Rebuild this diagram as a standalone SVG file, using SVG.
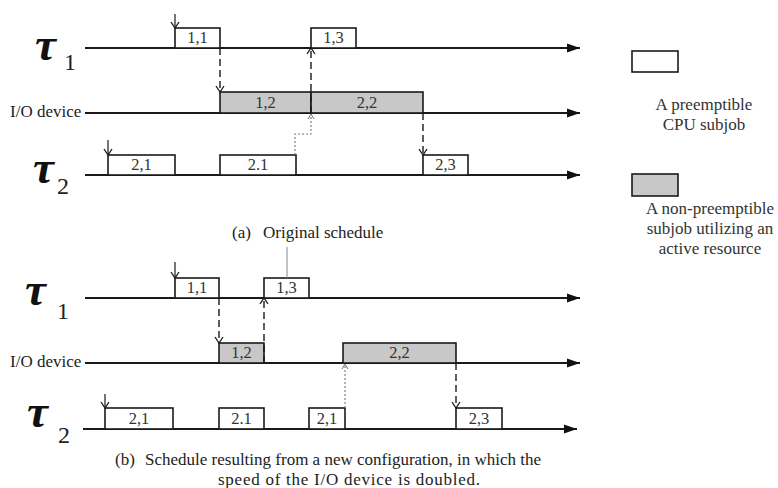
<svg xmlns="http://www.w3.org/2000/svg" width="778" height="488" viewBox="0 0 778 488">
  <style>
    text { font-family: "Liberation Serif", "Times New Roman", serif; }
    .tau { font-size: 47px; font-style: italic; font-weight: bold; fill: #111; }
    .sub { font-size: 24px; fill: #222; }
    .dev { font-size: 17px; fill: #222; }
    .lbl { font-size: 16.5px; fill: #333; text-anchor: middle; }
    .cap { font-size: 17px; fill: #222; }
    .leg { font-size: 17px; fill: #333; text-anchor: middle; }
    .axis { stroke: #1a1a1a; stroke-width: 1.8; fill: none; }
    .cpu { fill: #fff; stroke: #1a1a1a; stroke-width: 1.6; }
    .io { fill: #c8c8c8; stroke: #1a1a1a; stroke-width: 1.6; }
    .rel { stroke: #1a1a1a; stroke-width: 1.2; fill: none; }
    .dash { stroke: #1a1a1a; stroke-width: 1.4; stroke-dasharray: 7 4; fill: none; }
    .dot { stroke: #777; stroke-width: 1.1; stroke-dasharray: 2 2; fill: none; }
    .lead { stroke: #888; stroke-width: 1; }
  </style>
  <defs>
    <marker id="tri" markerWidth="14" markerHeight="10" refX="13" refY="5" orient="auto" markerUnits="userSpaceOnUse">
      <path d="M0,0.5 L13,5 L0,9.5 z" fill="#111"/>
    </marker>
    <marker id="vee" markerWidth="10" markerHeight="10" refX="8" refY="5" orient="auto" markerUnits="userSpaceOnUse">
      <path d="M2,1 L8,5 L2,9" fill="none" stroke="#1a1a1a" stroke-width="1.3"/>
    </marker>
    <marker id="veeSmall" markerWidth="8" markerHeight="8" refX="6" refY="4" orient="auto" markerUnits="userSpaceOnUse">
      <path d="M1,1 L6,4 L1,7" fill="none" stroke="#777" stroke-width="1"/>
    </marker>
  </defs>

  <!-- (a) original schedule -->
  <g id="a-tau1-label">
    <text class="tau" x="35" y="60">τ</text>
    <text class="sub" x="64" y="70">1</text>
  </g>
  <g id="a-io-label"><text class="dev" x="10" y="117">I/O device</text></g>
  <g id="a-tau2-label">
    <text class="tau" x="33" y="183">τ</text>
    <text class="sub" x="57" y="194">2</text>
  </g>

  <g id="a-axes">
    <line class="axis" x1="85" y1="48" x2="580" y2="48" marker-end="url(#tri)"/>
    <line class="axis" x1="85" y1="113" x2="580" y2="113" marker-end="url(#tri)"/>
    <line class="axis" x1="85" y1="175" x2="580" y2="175" marker-end="url(#tri)"/>
  </g>

  <g id="a-j11"><rect class="cpu" x="175" y="28" width="45" height="20"/><text class="lbl" x="197.5" y="43">1,1</text></g>
  <g id="a-j13"><rect class="cpu" x="311" y="28" width="45" height="20"/><text class="lbl" x="333.5" y="43">1,3</text></g>
  <g id="a-j12"><rect class="io" x="220" y="92" width="91" height="21"/><text class="lbl" x="265.5" y="108">1,2</text></g>
  <g id="a-j22"><rect class="io" x="311" y="92" width="112" height="21"/><text class="lbl" x="367" y="108">2,2</text></g>
  <g id="a-j21"><rect class="cpu" x="108" y="155" width="67" height="20"/><text class="lbl" x="141.5" y="170">2,1</text></g>
  <g id="a-j21b"><rect class="cpu" x="220" y="155" width="76" height="20"/><text class="lbl" x="258" y="170">2.1</text></g>
  <g id="a-j23"><rect class="cpu" x="423" y="155" width="45" height="20"/><text class="lbl" x="445.5" y="170">2,3</text></g>

  <g id="a-connectors">
    <line class="rel" x1="175" y1="14" x2="175" y2="28" marker-end="url(#vee)"/>
    <line class="rel" x1="108" y1="140" x2="108" y2="155" marker-end="url(#vee)"/>
    <line class="dash" x1="220" y1="48" x2="220" y2="92" marker-end="url(#vee)"/>
    <line class="dash" x1="311" y1="113" x2="311" y2="48" marker-end="url(#vee)"/>
    <line class="dash" x1="423" y1="113" x2="423" y2="155" marker-end="url(#vee)"/>
    <path class="dot" d="M295,155 V134 H311 V114" marker-end="url(#veeSmall)"/>
  </g>

  <g id="a-caption">
    <text class="cap" x="232" y="238">(a)</text>
    <text class="cap" x="263" y="238">Original schedule</text>
  </g>

  <!-- legend -->
  <g id="legend-cpu">
    <rect class="cpu" x="632" y="51" width="46" height="21"/>
    <text class="leg" x="704" y="110">A preemptible</text>
    <text class="leg" x="704" y="130">CPU subjob</text>
  </g>
  <g id="legend-io">
    <rect class="io" x="632" y="174" width="46" height="22"/>
    <text class="leg" x="710" y="214">A non-preemptible</text>
    <text class="leg" x="710" y="234">subjob utilizing an</text>
    <text class="leg" x="710" y="254">active resource</text>
  </g>

  <!-- (b) doubled I/O speed -->
  <g id="b-tau1-label">
    <text class="tau" x="25" y="305">τ</text>
    <text class="sub" x="57" y="319">1</text>
  </g>
  <g id="b-io-label"><text class="dev" x="10" y="367">I/O device</text></g>
  <g id="b-tau2-label">
    <text class="tau" x="27" y="427">τ</text>
    <text class="sub" x="58" y="443">2</text>
  </g>

  <g id="b-axes">
    <line class="axis" x1="85" y1="298" x2="580" y2="298" marker-end="url(#tri)"/>
    <line class="axis" x1="85" y1="363" x2="580" y2="363" marker-end="url(#tri)"/>
    <line class="axis" x1="83" y1="429" x2="577" y2="429" marker-end="url(#tri)"/>
  </g>

  <g id="b-j11"><rect class="cpu" x="175" y="278" width="44" height="20"/><text class="lbl" x="197" y="293">1,1</text></g>
  <g id="b-j13"><rect class="cpu" x="264" y="278" width="45" height="20"/><text class="lbl" x="286.5" y="293">1,3</text></g>
  <g id="b-j12"><rect class="io" x="219" y="343" width="45" height="20"/><text class="lbl" x="241.5" y="358">1,2</text></g>
  <g id="b-j22"><rect class="io" x="343" y="343" width="113" height="20"/><text class="lbl" x="399.5" y="358">2,2</text></g>
  <g id="b-j21"><rect class="cpu" x="105" y="408" width="68" height="21"/><text class="lbl" x="139" y="424">2,1</text></g>
  <g id="b-j21b"><rect class="cpu" x="219" y="408" width="45" height="21"/><text class="lbl" x="241.5" y="424">2.1</text></g>
  <g id="b-j21c"><rect class="cpu" x="309" y="408" width="36" height="21"/><text class="lbl" x="327" y="424">2,1</text></g>
  <g id="b-j23"><rect class="cpu" x="456" y="408" width="46" height="21"/><text class="lbl" x="479" y="424">2,3</text></g>

  <g id="b-connectors">
    <line class="lead" x1="287" y1="247" x2="287" y2="278"/>
    <line class="rel" x1="175" y1="262" x2="175" y2="278" marker-end="url(#vee)"/>
    <line class="rel" x1="105" y1="394" x2="105" y2="408" marker-end="url(#vee)"/>
    <line class="dash" x1="219" y1="298" x2="219" y2="343" marker-end="url(#vee)"/>
    <line class="dash" x1="264" y1="363" x2="264" y2="298" marker-end="url(#vee)"/>
    <line class="dot" x1="345" y1="408" x2="345" y2="364" marker-end="url(#veeSmall)"/>
    <line class="dash" x1="456" y1="363" x2="456" y2="408" marker-end="url(#vee)"/>
  </g>

  <g id="b-caption">
    <text class="cap" x="115" y="465">(b)</text>
    <text class="cap" x="145" y="465">Schedule resulting from a new configuration, in which the</text>
    <text class="cap" x="218" y="485" textLength="262" lengthAdjust="spacing">speed of the I/O device is doubled.</text>
  </g>
</svg>
